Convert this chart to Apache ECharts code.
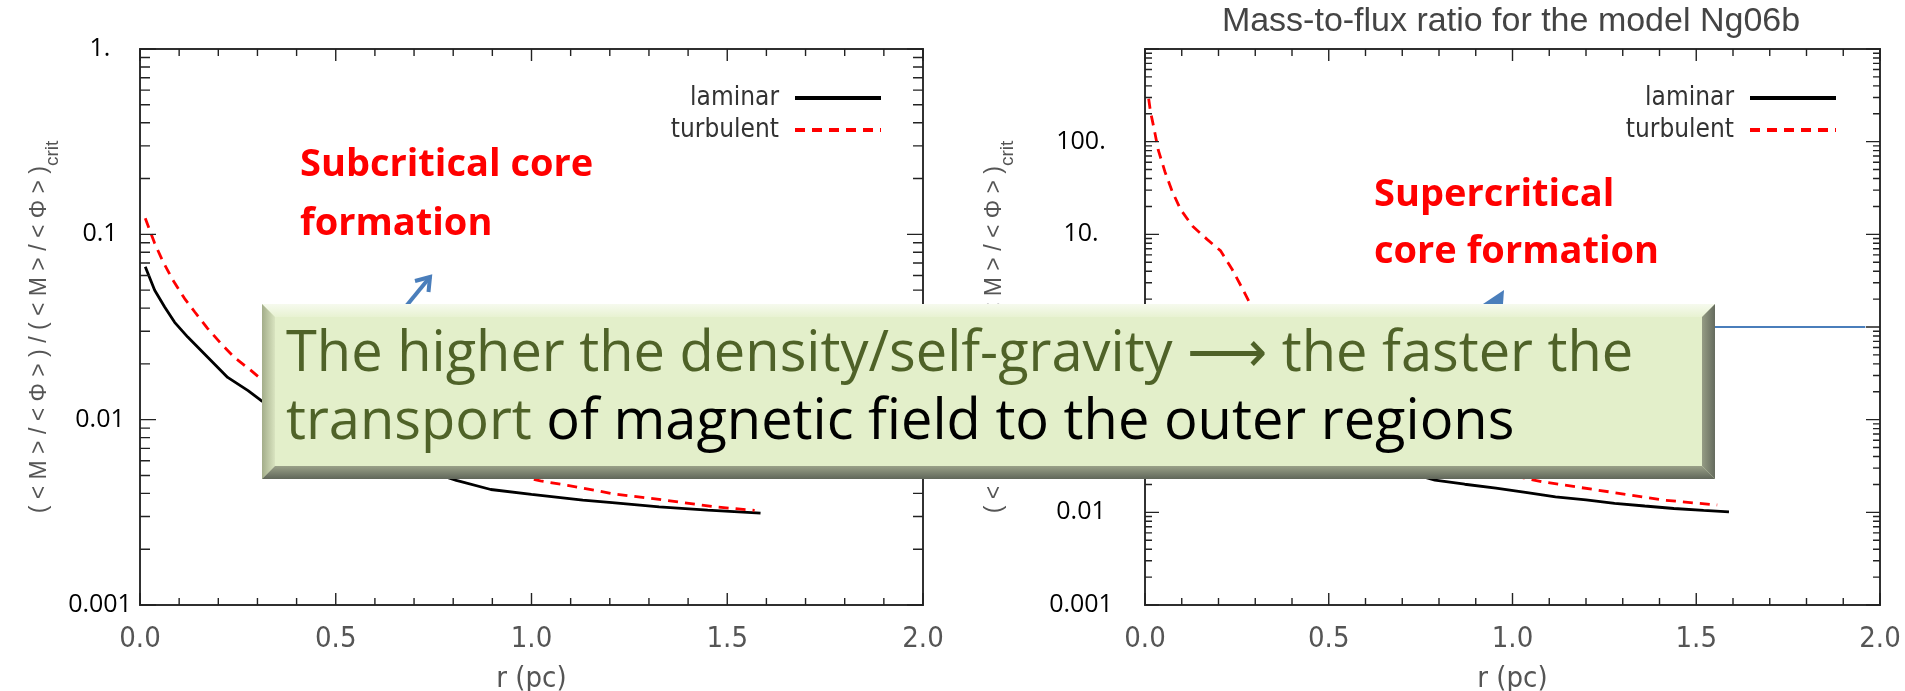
<!DOCTYPE html>
<html><head><meta charset="utf-8">
<script src="https://cdn.jsdelivr.net/npm/echarts@6/dist/echarts.min.js"></script>
<style>html,body{margin:0;padding:0;background:#fff}#c{width:1905px;height:691px}</style>
</head><body><div id="c"></div>
<script>
// ---------- data ----------
const seriesNames = ['laminar', 'turbulent'];
// left panel
const rLamL = [0.0135, 0.0375, 0.063, 0.0885, 0.122, 0.173, 0.224, 0.276, 0.309, 0.4, 0.5, 0.6, 0.7, 0.808, 0.896, 1.0, 1.131, 1.206, 1.326, 1.45, 1.585];
const vLamL = [0.0668, 0.0499, 0.0405, 0.0335, 0.0279, 0.0217, 0.0169, 0.01435, 0.0127, 0.0099, 0.0080, 0.0066, 0.0056, 0.0047, 0.0042, 0.00395, 0.00368, 0.00357, 0.00338, 0.00325, 0.00313];
const rTurL = [0.0135, 0.0375, 0.059, 0.084, 0.114, 0.14, 0.173, 0.207, 0.241, 0.284, 0.309, 0.4, 0.5, 0.6, 0.7, 0.8, 0.9, 1.023, 1.092, 1.209, 1.345, 1.472, 1.570];
const vTurL = [0.122, 0.0894, 0.0711, 0.0566, 0.045, 0.0381, 0.031, 0.0257, 0.0217, 0.0184, 0.0166, 0.0128, 0.0102, 0.0085, 0.0072, 0.0062, 0.0054, 0.00467, 0.00442, 0.00398, 0.00367, 0.00338, 0.00324];
// right panel (model Ng06b)
const rLamR = [0.015, 0.05, 0.1, 0.15, 0.2, 0.3, 0.4, 0.5, 0.6, 0.7, 0.789, 0.87, 0.955, 1.04, 1.117, 1.2, 1.278, 1.36, 1.439, 1.52, 1.589];
const vLamR = [1.2, 0.75, 0.45, 0.3, 0.21, 0.12, 0.075, 0.05, 0.036, 0.028, 0.0223, 0.0201, 0.0182, 0.0163, 0.0147, 0.0136, 0.0125, 0.0117, 0.0110, 0.0105, 0.0101];
const rTurR = [0.01, 0.015, 0.0245, 0.036, 0.054, 0.074, 0.097, 0.129, 0.169, 0.206, 0.237, 0.263, 0.285, 0.33, 0.4, 0.5, 0.6, 0.7, 0.8, 0.9, 1.0, 1.079, 1.17, 1.278, 1.407, 1.557];
const vTurR = [290, 210, 139, 81.5, 47.7, 29.1, 18.5, 12.3, 8.83, 6.62, 4.2, 2.69, 1.82, 1.0, 0.45, 0.18, 0.09, 0.055, 0.040, 0.031, 0.025, 0.0214, 0.0189, 0.0163, 0.0136, 0.0120];
// critical line (blue) in right panel
const critR = [0, 1.96];
const critV = [1, 1];
// axes / ticks
const xTickValues = [0, 0.1, 0.2, 0.3, 0.4, 0.5, 0.6, 0.7, 0.8, 0.9, 1.0, 1.1, 1.2, 1.3, 1.4, 1.5, 1.6, 1.7, 1.8, 1.9, 2.0];
const xTickLabels = ['0.0', '0.5', '1.0', '1.5', '2.0'];
const leftYDecades = [0.001, 0.01, 0.1, 1];
const leftYTickLabels = ['0.001', '0.01', '0.1', '1.'];
const rightYDecades = [0.001, 0.01, 0.1, 1, 10, 100, 1000];
const rightYTickLabels = ['0.001', '0.01', '0.1', '1.', '10.', '100.', ''];
const minorMultipliers = [2, 3, 4, 5, 6, 7, 8, 9];
const titleText = 'Mass-to-flux ratio for the model Ng06b';
const xName = 'r (pc)';
const yNameMain = '( < M > / < Φ > ) / ( < M > / < Φ > )';
const yNameSub = 'crit';
const noteLeft = ['Subcritical core', 'formation'];
const noteRight = ['Supercritical', 'core formation'];
const boxLine1 = 'The higher the density/self-gravity \u27F6 the faster the';
const boxLine2a = 'transport';
const boxLine2b = 'of magnetic field to the outer regions';

// ---------- helpers ----------
const zip = (a, b) => a.map((x, i) => [x, b[i]]);
const narrow = '"Liberation Sans Narrow", "DejaVu Sans Condensed", "Liberation Sans", sans-serif';
const frameColor = '#222';

function xAx(gi, pos) {
  const bottom = pos === 'bottom';
  return {
    type: 'value', gridIndex: gi, position: pos, min: 0, max: 2, interval: 0.5,
    axisLine: { show: true, onZero: false, lineStyle: { color: frameColor, width: 1.5 } },
    axisTick: { show: false }, minorTick: { show: false },
    splitLine: { show: false }, minorSplitLine: { show: false },
    axisLabel: { show: bottom, margin: 20, color: '#555', fontFamily: narrow, fontSize: 29,
      formatter: v => xTickLabels[Math.round(v / 0.5)] },
    name: bottom ? xName : '', nameLocation: 'middle', nameGap: 60,
    nameTextStyle: { color: '#555', fontFamily: narrow, fontSize: 29 }
  };
}
function yAx(gi, pos, decades, labels, margin, nameGap) {
  const left = pos === 'left';
  const e0 = Math.round(Math.log10(decades[0]));
  return {
    type: 'log', logBase: 10, gridIndex: gi, position: pos,
    min: decades[0], max: decades[decades.length - 1], splitNumber: decades.length - 1,
    axisLine: { show: true, onZero: false, lineStyle: { color: frameColor, width: 1.5 } },
    axisTick: { show: false }, minorTick: { show: false },
    splitLine: { show: false }, minorSplitLine: { show: false },
    axisLabel: { show: left, align: 'center', margin: margin, color: '#000',
      fontFamily: '"Open Sans", sans-serif', fontSize: 25,
      formatter: v => { const i = Math.round(Math.log10(v)) - e0; return labels[i] !== undefined ? labels[i] : ''; } },
    name: left ? '{a|' + yNameMain + '}{b|' + yNameSub + '}' : '',
    nameLocation: 'middle', nameRotate: 90, nameGap: nameGap,
    nameTextStyle: { color: '#555', fontFamily: '"Liberation Sans", sans-serif', fontSize: 23,
      rich: {
        a: { color: '#555', fontFamily: '"Liberation Sans", sans-serif', fontSize: 23, lineHeight: 34, verticalAlign: 'top' },
        b: { color: '#555', fontFamily: '"Liberation Sans", sans-serif', fontSize: 19, lineHeight: 34, verticalAlign: 'bottom' }
      } }
  };
}
function lamSeries(name, xi, yi, r, v) {
  return { name, type: 'line', xAxisIndex: xi, yAxisIndex: yi, data: zip(r, v), symbol: 'none',
    lineStyle: { color: '#000', width: 2.8 }, itemStyle: { color: '#000' }, z: 5 };
}
function turSeries(name, xi, yi, r, v) {
  return { name, type: 'line', xAxisIndex: xi, yAxisIndex: yi, data: zip(r, v), symbol: 'none',
    lineStyle: { color: '#ff0000', width: 2.8, type: [10, 7] }, itemStyle: { color: '#ff0000' }, z: 5 };
}
function legendAt(right) {
  return { data: seriesNames, orient: 'vertical', align: 'right', right: right, top: 80,
    itemWidth: 86, itemHeight: 14, itemGap: 6, selectedMode: false,
    itemStyle: { opacity: 0 }, lineStyle: { width: 4 },
    textStyle: { fontFamily: narrow, fontSize: 26, lineHeight: 22, color: '#333', padding: [0, 11, 0, 0] } };
}

// ---------- annotation box ----------
const bx0 = 262, by0 = 304, bx1 = 1715, by1 = 479, bv = 13;
const lin = (x, y, x2, y2, stops) => ({ type: 'linear', x, y, x2, y2, colorStops: stops.map((c, i) => ({ offset: i / (stops.length - 1), color: c })) });
const boxGroup = {
  type: 'group', z: 100, children: [
    { type: 'rect', shape: { x: bx0, y: by0, width: bx1 - bx0, height: by1 - by0 }, style: { fill: '#e3efca' }, z: 100 },
    { type: 'polygon', shape: { points: [[bx0, by0], [bx1, by0], [bx1 - bv, by0 + bv], [bx0 + bv, by0 + bv]] },
      style: { fill: lin(0, 0, 0, 1, ['#f6faee', '#e8f2d2']) }, z: 101 },
    { type: 'polygon', shape: { points: [[bx0, by0], [bx0 + bv, by0 + bv], [bx0 + bv, by1 - bv], [bx0, by1]] },
      style: { fill: lin(0, 0, 1, 0, ['#a3ad8a', '#d9e4c0']) }, z: 101 },
    { type: 'polygon', shape: { points: [[bx0, by1], [bx0 + bv, by1 - bv], [bx1 - bv, by1 - bv], [bx1, by1]] },
      style: { fill: lin(0, 0, 0, 1, ['#9aa188', '#60665a']) }, z: 101 },
    { type: 'polygon', shape: { points: [[bx1, by0], [bx1, by1], [bx1 - bv, by1 - bv], [bx1 - bv, by0 + bv]] },
      style: { fill: lin(0, 0, 1, 0, ['#959c85', '#656b5e']) }, z: 101 },
    { type: 'text', x: 286, y: 355, z: 102, style: { text: boxLine1, fill: '#4f6228', fontSize: 56,
      fontFamily: '"Open Sans", sans-serif', verticalAlign: 'middle' } },
    { type: 'text', x: 286, y: 423, z: 102, style: { text: '{g|' + boxLine2a + '} {k|' + boxLine2b + '}',
      fontSize: 56, fontFamily: '"Open Sans", sans-serif', verticalAlign: 'middle', fill: '#000',
      rich: { g: { fill: '#4f6228', fontSize: 56, fontFamily: '"Open Sans", sans-serif' },
              k: { fill: '#000', fontSize: 56, fontFamily: '"Open Sans", sans-serif' } } } }
  ]
};
const redFont = { fill: '#ff0000', fontSize: 38, fontWeight: 'bold', fontFamily: '"Open Sans", sans-serif', verticalAlign: 'middle' };
const arrowBlue = '#4a7ebb';
const graphics = [
  { type: 'text', x: 1511, y: 22, z: 10, style: { text: titleText, fill: '#444', fontSize: 34,
    fontFamily: '"Liberation Sans", sans-serif', align: 'center', verticalAlign: 'middle' } },
  { type: 'text', x: 300, y: 165, z: 10, style: Object.assign({ text: noteLeft[0] }, redFont) },
  { type: 'text', x: 300, y: 224, z: 10, style: Object.assign({ text: noteLeft[1] }, redFont) },
  { type: 'text', x: 1374, y: 195, z: 10, style: Object.assign({ text: noteRight[0] }, redFont) },
  { type: 'text', x: 1374, y: 252, z: 10, style: Object.assign({ text: noteRight[1] }, redFont) },
  { type: 'polyline', z: 50, shape: { points: [[398, 316], [430, 277]] }, style: { stroke: arrowBlue, lineWidth: 4 } },
  { type: 'polyline', z: 50, shape: { points: [[415, 281], [430, 277], [428.5, 292]] }, style: { stroke: arrowBlue, lineWidth: 4, fill: null } },
  { type: 'polygon', z: 50, shape: { points: [[1504, 290], [1474, 310], [1502, 318]] }, style: { fill: arrowBlue } },
  boxGroup
];

const chart = echarts.init(document.getElementById('c'), null, { renderer: 'canvas' });
chart.setOption({
  animation: false,
  backgroundColor: '#fff',
  grid: [
    { left: 140, right: 982, top: 49, bottom: 86, containLabel: false, outerBoundsMode: 'none' },
    { left: 1145, right: 25, top: 49, bottom: 86, containLabel: false, outerBoundsMode: 'none' }
  ],
  legend: [legendAt(1017), legendAt(62)],
  xAxis: [xAx(0, 'bottom'), xAx(0, 'top'), xAx(1, 'bottom'), xAx(1, 'top')],
  yAxis: [
    yAx(0, 'left', leftYDecades, leftYTickLabels, 40, 78),
    yAx(0, 'right', leftYDecades, leftYTickLabels, 40, 78),
    yAx(1, 'left', rightYDecades, rightYTickLabels, 64, 128),
    yAx(1, 'right', rightYDecades, rightYTickLabels, 64, 128)
  ],
  series: [
    lamSeries(seriesNames[0], 0, 0, rLamL, vLamL),
    turSeries(seriesNames[1], 0, 0, rTurL, vTurL),
    lamSeries(seriesNames[0], 2, 2, rLamR, vLamR),
    turSeries(seriesNames[1], 2, 2, rTurR, vTurR),
    { name: 'critical', type: 'line', xAxisIndex: 2, yAxisIndex: 2, data: zip(critR, critV), symbol: 'none',
      lineStyle: { color: arrowBlue, width: 2 }, z: 4 }
  ]
});

// ---------- frame ticks (inside, all four sides), positioned through the axes' own scales ----------
function yTickValues(decades) {
  const out = [];
  decades.forEach((d, i) => {
    out.push([d, true]);
    if (i < decades.length - 1) minorMultipliers.forEach(m => out.push([d * m, false]));
  });
  return out;
}
function buildTicks() {
  const els = [];
  const specs = [
    { xi: 0, yi: 0, decs: leftYDecades, majY: 16, minY: 10 },
    { xi: 2, yi: 2, decs: rightYDecades, majY: 14, minY: 7 }
  ];
  specs.forEach(s => {
    const finder = { xAxisIndex: s.xi, yAxisIndex: s.yi };
    const yMin = s.decs[0], yMax = s.decs[s.decs.length - 1];
    const pBL = chart.convertToPixel(finder, [0, yMin]);
    const pTR = chart.convertToPixel(finder, [2, yMax]);
    const xL = pBL[0], xR = pTR[0], yB = pBL[1], yT = pTR[1];
    const leftPts = [], rightPts = [], botPts = [], topPts = [];
    yTickValues(s.decs).forEach(([v, major]) => {
      const y = chart.convertToPixel(finder, [0, v])[1];
      const L = major ? s.majY : s.minY;
      leftPts.push([xL, y], [xL + L, y], [xL, y]);
      rightPts.push([xR, y], [xR - L, y], [xR, y]);
    });
    xTickValues.forEach(x => {
      const px = chart.convertToPixel(finder, [x, yMin])[0];
      const major = Math.abs(x / 0.5 - Math.round(x / 0.5)) < 1e-6;
      const L = major ? 12 : 7;
      botPts.push([px, yB], [px, yB - L], [px, yB]);
      topPts.push([px, yT], [px, yT + L], [px, yT]);
    });
    [leftPts, rightPts, botPts, topPts].forEach(pts => els.push({
      type: 'polyline', z: 20, silent: true, shape: { points: pts },
      style: { stroke: frameColor, lineWidth: 1.4, fill: null }
    }));
  });
  return els;
}
chart.setOption({ graphic: buildTicks().concat(graphics) });
</script>
</body></html>
